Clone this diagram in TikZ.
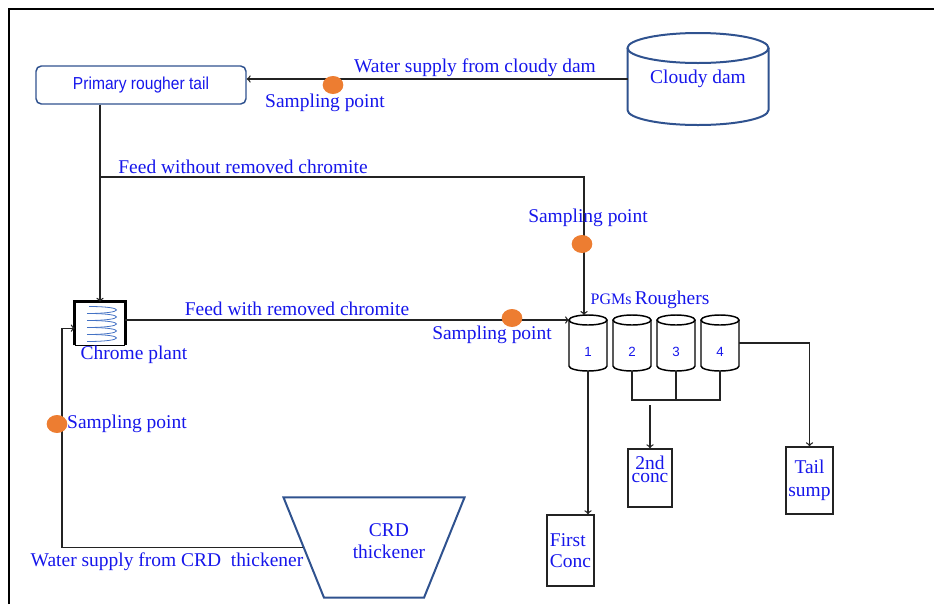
\documentclass[tikz,border=0pt]{standalone}
\usepackage{fontspec}
\setmainfont{Liberation Serif}
\setsansfont{Liberation Sans}
\newfontfamily\narrowsans[FakeStretch=0.9]{Liberation Sans}
\usetikzlibrary{shapes.geometric}
\definecolor{labelblue}{RGB}{22,22,235}
\definecolor{damblue}{RGB}{47,82,143}
\definecolor{coilblue}{RGB}{68,114,196}
\definecolor{dotorange}{RGB}{237,125,49}
\definecolor{linegray}{RGB}{35,35,35}
\newcommand{\drum}[9]{%
  \begin{scope}[shift={(#2,#3)}]
    \draw[#7] (-#4,0) -- (-#4,#6)
      arc[start angle=180,end angle=0,x radius=#4,y radius=#5] -- (#4,0);
    \draw[#7] (0,0) ellipse[x radius=#4,y radius=#5];
    \coordinate (#1-n) at (0,-#5);
    \coordinate (#1-s) at (0,#6+#5);
    \coordinate (#1-nw) at (-#4,0);
    \coordinate (#1-w) at (-#4,#6/2);
    \coordinate (#1-e) at (#4,#6/2);
    \node[#8] (#1) at (0,#6/2) {#9};
  \end{scope}%
}

\begin{document}
\begin{tikzpicture}[x=0.75pt,y=-0.75pt,
    lbl/.style={text=labelblue,inner sep=0pt,font=\fontsize{14.6}{17}\selectfont},
    flow/.style={draw=linegray,line width=1pt},
    sample/.style={ellipse,fill=dotorange,minimum width=15.5pt,
      minimum height=13.5pt,inner sep=0pt},
    unitbox/.style={draw=linegray,line width=1.1pt,inner sep=0pt},
    tankline/.style={draw=black,line width=1.1pt},
    damline/.style={draw=damblue,line width=1.5pt},
    tanknum/.style={text=labelblue,inner sep=0pt,yshift=-6.5pt,
      font=\sffamily\fontsize{10}{12}\selectfont}]
  \useasboundingbox (0,0) rectangle (934,604);
  \draw[line width=2.2pt] (9,604) -- (9,9) -- (934,9);

  % sources
  \node[draw=damblue,line width=1.1pt,rounded corners=4pt,
    minimum width=157.5pt,minimum height=28.5pt,text=labelblue,
    font=\narrowsans\fontsize{13}{15}\selectfont] (prt) at (141,85)
    {Primary rougher tail};
  \drum{dam}{698}{48}{70.5}{15}{62}{damline}{lbl}{Cloudy dam}
  \node[trapezium,trapezium angle=68,shape border rotate=180,
    minimum width=135.75pt,minimum height=68.25pt,
    draw=damblue,line width=1.5pt] (crd) at (374,547.5) {};
  \node[lbl,align=center,font=\fontsize{14.6}{16.5}\selectfont]
    (crdtext) at (389,541) {CRD\\thickener};

  % chrome plant
  \node[minimum width=37.5pt,minimum height=32.25pt,inner sep=0pt]
    (chrome) at (100,323.5) {};
  \draw[line width=2.2pt] (chrome.south west) -- (chrome.north west)
    -- (chrome.north east) -- (chrome.south east);
  \draw[line width=0.8pt] (chrome.south west) -- (chrome.south east);
  \begin{scope}[shift={(chrome.center)}]
    \foreach \i in {0,...,4}
      \draw[coilblue,line width=0.6pt] (-11,{-17+7*\i})
        .. controls (26,{-17+7*\i}) and (26,{-10+7*\i}) .. (-13,{-10+7*\i});
  \end{scope}
  \node[lbl] (chromelbl) at (134,355) {Chrome plant};

  % roughers
  \drum{r1}{588}{320}{19}{5}{46}{tankline}{tanknum}{1}
  \drum{r2}{632}{320}{19}{5}{46}{tankline}{tanknum}{2}
  \drum{r3}{676}{320}{19}{5}{46}{tankline}{tanknum}{3}
  \drum{r4}{720}{320}{19}{5}{46}{tankline}{tanknum}{4}
  \node[lbl] (pgm) at (650,300)
    {{\fontsize{12}{14}\selectfont PGMs}\,Roughers};

  % products
  \node[unitbox,minimum width=35.25pt,minimum height=53.25pt,
    text=labelblue,align=left,font=\fontsize{14.6}{15.75}\selectfont]
    (firstbox) at (570.5,550.5) {First\\Conc};
  \node[unitbox,minimum width=33pt,minimum height=43.5pt]
    (secondbox) at (650,478) {};
  \node[lbl,align=center,font=\fontsize{14.6}{9.5}\selectfont]
    (secondtext) at (650,469) {2nd\\conc};
  \node[unitbox,minimum width=35.25pt,minimum height=50.25pt,
    text=labelblue,align=center,font=\fontsize{14.6}{17.25}\selectfont]
    (tailbox) at (809.5,480.5) {Tail\\sump};

  % flows
  \coordinate (tee) at (101,177);
  \coordinate (bus) at (650,400);
  \coordinate (busout) at (650,405);
  \coordinate (retx) at (62,0);
  \draw[flow,->] (dam-w) -- (prt.east |- dam-w);
  \draw[flow,->] (chrome.north |- prt.south) -- (chrome.north);
  \draw[flow,->] (tee) -| ([xshift=-3pt]r1-n);
  \draw[flow,->] (chrome.east |- r1-nw) -- (r1-nw);
  \draw[flow,->] (crd.west) -- (crd.west -| retx)
    |- ([yshift=-3.5pt]chrome.west);
  \draw[flow] (r2-s) -- (r2-s |- bus) -- (r4-s |- bus) -- (r4-s);
  \draw[flow] (r3-s) -- (r3-s |- bus);
  \draw[flow,->] (busout) -- (secondbox.north);
  \draw[flow,->] (r1-s) -- (r1-s |- firstbox.north);
  \draw[flow,->] (r4-e) -| (tailbox.north);

  % sampling points
  \node[sample] (sp1) at (333,85) {};
  \node[sample] (sp2) at (582,244) {};
  \node[sample] (sp3) at (512,318) {};
  \node[sample] (sp4) at (57,424) {};

  % labels
  \node[lbl] (wsdam) at (475,68) {Water supply from cloudy dam};
  \node[lbl] (sp1lbl) at (325,103) {Sampling point};
  \node[lbl] (feedwo) at (243,167) {Feed without removed chromite};
  \node[lbl] (sp2lbl) at (588,218) {Sampling point};
  \node[lbl] (feedw) at (297,309) {Feed with removed chromite};
  \node[lbl] (sp3lbl) at (492,335) {Sampling point};
  \node[lbl] (sp4lbl) at (127,424) {Sampling point};
  \node[lbl] (wscrd) at (167,562) {Water supply from CRD~ thickener};
\end{tikzpicture}
\end{document}
